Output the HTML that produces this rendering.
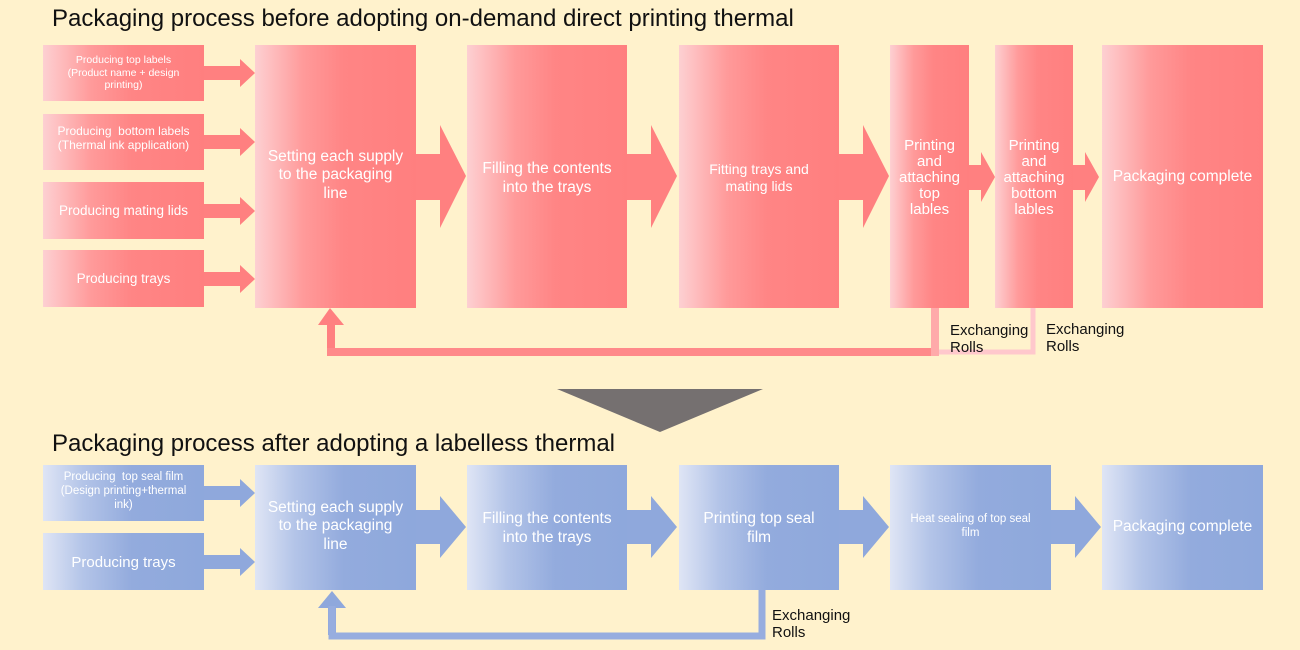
<!DOCTYPE html>
<html><head><meta charset="utf-8"><style>
body{margin:0;width:1300px;height:650px;background:#fff2cc;position:relative;overflow:hidden;font-family:"Liberation Sans",sans-serif}
.t{position:absolute;left:52px;font-size:24px;color:#111;white-space:nowrap}
.b{position:absolute;display:flex;align-items:center;justify-content:center;text-align:center;color:#fff;line-height:1.2;box-sizing:border-box;padding:0 4px}
.r{background:linear-gradient(90deg,#fdd0d2 0%,#ff9a9a 30%,#ff8585 55%,#ff7f7f 100%)}
.u{background:linear-gradient(90deg,#dfe5f5 0%,#b3c4e8 25%,#93abdd 55%,#8ea8dc 100%)}
.x{position:absolute;font-size:15px;color:#111;line-height:17px}
svg{position:absolute;left:0;top:0}
</style></head><body>
<div class="t" style="top:5px">Packaging process before adopting on-demand direct printing thermal</div>
<div class="t" style="top:430px">Packaging process after adopting a labelless thermal</div>

<svg width="1300" height="650">
<g fill="#ff8080">
<polygon points="204,66 240,66 240,59 255,73 240,87 240,80 204,80"/>
<polygon points="204,135 240,135 240,128 255,142 240,156 240,149 204,149"/>
<polygon points="204,204 240,204 240,197 255,211 240,225 240,218 204,218"/>
<polygon points="204,272 240,272 240,265 255,279 240,293 240,286 204,286"/>
<polygon points="416,154 440,154 440,125 466,176 440,228 440,200 416,200"/>
<polygon points="627,154 651,154 651,125 677,176 651,228 651,200 627,200"/>
<polygon points="839,154 863,154 863,125 889,176 863,228 863,200 839,200"/>
<polygon points="969,165 981,165 981,152 995,177 981,202 981,190 969,190"/>
<polygon points="1073,165 1085,165 1085,152 1099,177 1085,202 1085,190 1073,190"/>
<polygon points="318,325 330,308 344,325 335,325 335,350 327,350 327,325"/>
</g>
<rect x="327" y="348" width="612" height="8" fill="#ff8a8a"/>
<rect x="931" y="308" width="8" height="48" fill="#ffaaaa"/>
<path d="M1033,308 V352 H939" fill="none" stroke="#ffc8cc" stroke-width="5"/>
<polygon points="557,389 763,389 660,432" fill="#757070"/>
<g fill="#8fa8dc">
<polygon points="204,486 240,486 240,479 255,493 240,507 240,500 204,500"/>
<polygon points="204,555 240,555 240,548 255,562 240,576 240,569 204,569"/>
<polygon points="416,510 440,510 440,496 466,527 440,558 440,544 416,544"/>
<polygon points="627,510 651,510 651,496 677,527 651,558 651,544 627,544"/>
<polygon points="839,510 863,510 863,496 889,527 863,558 863,544 839,544"/>
<polygon points="1051,510 1075,510 1075,496 1101,527 1075,558 1075,544 1051,544"/>
<polygon points="318,608 332,591 346,608 336,608 336,635 328,635 328,608"/>
</g>
<path d="M332,606 V636 H762 V590" fill="none" stroke="#97addf" stroke-width="7"/>
</svg>

<div class="b r" style="left:43px;top:45px;width:161px;height:56px;font-size:10.5px">Producing top labels<br>(Product name + design<br>printing)</div>
<div class="b r" style="left:43px;top:114px;width:161px;height:56px;font-size:12px;padding-bottom:8px">Producing&nbsp; bottom labels<br>(Thermal ink application)</div>
<div class="b r" style="left:43px;top:182px;width:161px;height:57px;font-size:13.5px;padding-top:2px">Producing mating lids</div>
<div class="b r" style="left:43px;top:250px;width:161px;height:57px;font-size:13.5px;padding-top:2px">Producing trays</div>
<div class="b r" style="left:255px;top:45px;width:161px;height:263px;font-size:15.5px;padding-bottom:2px">Setting each supply<br>to the packaging<br>line</div>
<div class="b r" style="left:467px;top:45px;width:160px;height:263px;font-size:15.5px;padding-top:4px">Filling the contents<br>into the trays</div>
<div class="b r" style="left:679px;top:45px;width:160px;height:263px;font-size:14px;padding-top:2px">Fitting trays and<br>mating lids</div>
<div class="b r" style="left:890px;top:45px;width:79px;height:263px;font-size:15px;line-height:16px;padding-top:2px">Printing<br>and<br>attaching<br>top<br>lables</div>
<div class="b r" style="left:995px;top:45px;width:78px;height:263px;font-size:15px;line-height:16px;padding-top:2px">Printing<br>and<br>attaching<br>bottom<br>lables</div>
<div class="b r" style="left:1102px;top:45px;width:161px;height:263px;font-size:15.5px;padding-top:2px">Packaging complete</div>
<div class="x" style="left:950px;top:322px">Exchanging<br>Rolls</div>
<div class="x" style="left:1046px;top:321px">Exchanging<br>Rolls</div>

<div class="b u" style="left:43px;top:465px;width:161px;height:56px;font-size:11.5px;padding-bottom:2px">Producing&nbsp; top seal film<br>(Design printing+thermal<br>ink)</div>
<div class="b u" style="left:43px;top:533px;width:161px;height:57px;font-size:15px;padding-top:3px">Producing trays</div>
<div class="b u" style="left:255px;top:465px;width:161px;height:125px;font-size:15.5px;padding-bottom:2px">Setting each supply<br>to the packaging<br>line</div>
<div class="b u" style="left:467px;top:465px;width:160px;height:125px;font-size:15.5px;padding-top:2px">Filling the contents<br>into the trays</div>
<div class="b u" style="left:679px;top:465px;width:160px;height:125px;font-size:15.5px;padding-top:2px">Printing top seal<br>film</div>
<div class="b u" style="left:890px;top:465px;width:161px;height:125px;font-size:11.5px;padding-bottom:2px">Heat sealing of top seal<br>film</div>
<div class="b u" style="left:1102px;top:465px;width:161px;height:125px;font-size:15.5px">Packaging complete</div>
<div class="x" style="left:772px;top:607px">Exchanging<br>Rolls</div>
</body></html>
